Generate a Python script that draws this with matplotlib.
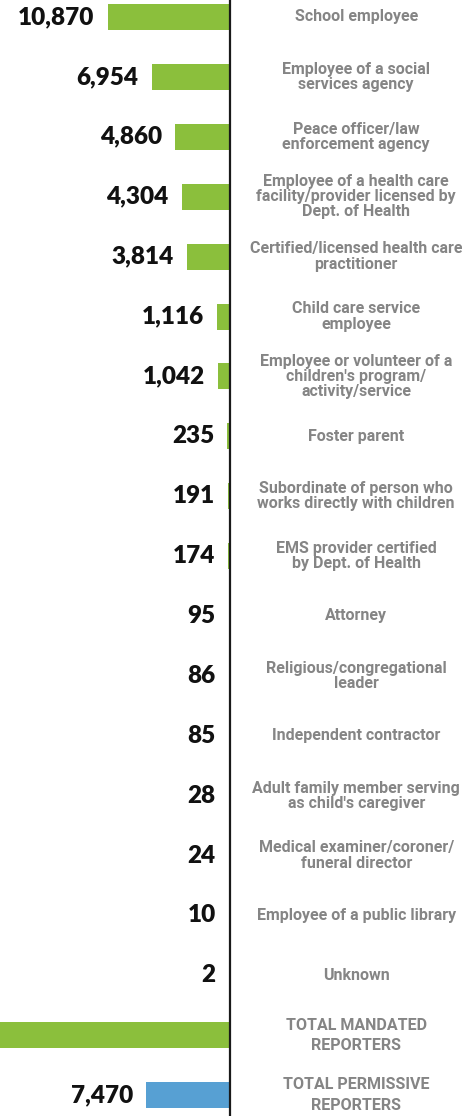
import matplotlib
matplotlib.use("Agg")
import matplotlib.pyplot as plt
from matplotlib.transforms import blended_transform_factory

categories = [
    "School employee",
    "Employee of a social\nservices agency",
    "Peace officer/law\nenforcement agency",
    "Employee of a health care\nfacility/provider licensed by\nDept. of Health",
    "Certified/licensed health care\npractitioner",
    "Child care service\nemployee",
    "Employee or volunteer of a\nchildren's program/\nactivity/service",
    "Foster parent",
    "Subordinate of person who\nworks directly with children",
    "EMS provider certified\nby Dept. of Health",
    "Attorney",
    "Religious/congregational\nleader",
    "Independent contractor",
    "Adult family member serving\nas child's caregiver",
    "Medical examiner/coroner/\nfuneral director",
    "Employee of a public library",
    "Unknown",
    "TOTAL MANDATED\nREPORTERS",
    "TOTAL PERMISSIVE\nREPORTERS",
]
values = [10870, 6954, 4860, 4304, 3814, 1116, 1042, 235, 191, 174, 95, 86, 85,
          28, 24, 10, 2, 33890, 7470]
value_labels = ["10,870", "6,954", "4,860", "4,304", "3,814", "1,116", "1,042",
                "235", "191", "174", "95", "86", "85", "28", "24", "10", "2",
                "33,890", "7,470"]
colors = ["#8bbf3c"] * 18 + ["#57a0d3"]

W, H = 462, 1116
fig = plt.figure(figsize=(W / 100, H / 100), dpi=100)
ax = fig.add_axes([0, 0, 1, 1])

px_per_unit = 0.01125
x0_px = 230
ax.set_xlim(-x0_px / px_per_unit, (W - x0_px) / px_per_unit)
row_px = 59.9
top_px = 17
ax.set_ylim((H - top_px) / row_px, -top_px / row_px)

ys = list(range(len(values)))
ax.barh(ys, [-v for v in values], height=26 / row_px, color=colors, linewidth=0)
# minimum visible width for tiny bars
for y, v, c in zip(ys, values, colors):
    if v * px_per_unit < 1.2:
        ax.barh(y, -1.2 / px_per_unit, height=26 / row_px, color=c, linewidth=0)

ax.axvline(0, color="#1a1a1a", linewidth=1.6)

trans = blended_transform_factory(ax.transAxes, ax.transData)
for y, v, lab, cat in zip(ys, values, value_labels, categories):
    bar_w = max(v * px_per_unit, 1.2) / px_per_unit
    ax.annotate(lab, xy=(-bar_w, y), xytext=(-9.5, 0), textcoords="offset points",
                ha="right", va="center", fontsize=17.5, fontweight="heavy",
                family=["Lato", "DejaVu Sans"], color="#111111")
    ls = 1.45 if cat.startswith("TOTAL") else 1.02
    ax.text(0.771, y, cat, transform=trans, ha="center", va="center",
            fontsize=11.5, fontweight="bold", family=["Roboto", "DejaVu Sans"],
            color="#858585", linespacing=ls)

ax.axis("off")
fig.savefig("out.png", dpi=100)
